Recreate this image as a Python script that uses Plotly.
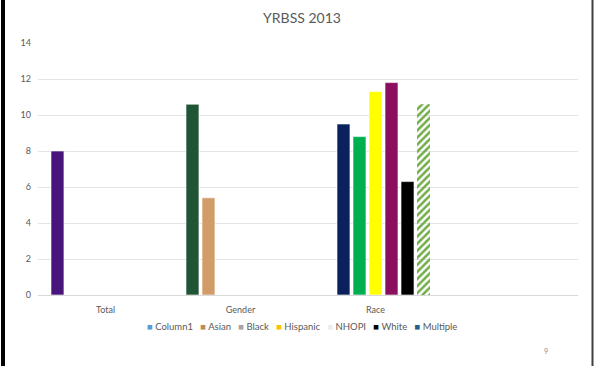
import plotly.graph_objects as go

# ---- data ----
categories = ["Total", "Gender", "Race", " "]
series_names = ["Column1", "Asian", "Black", "Hispanic", "NHOPI", "White", "Multiple"]
col1_vals = [8.0, 10.6, None, None]
asian_vals = [None, 5.4, 9.5, None]
black_vals = [None, None, 8.8, None]
hispanic_vals = [None, None, 11.3, None]
nhopi_vals = [None, None, 11.8, None]
white_vals = [None, None, 6.3, None]
multiple_vals = [None, None, 10.6, None]
series_values = [col1_vals, asian_vals, black_vals, hispanic_vals, nhopi_vals, white_vals, multiple_vals]

# bar fill colours (per point) and legend swatch colours
bar_colors = [
    ["#47157C", "#1F5434", "#FFFFFF", "#FFFFFF"],
    ["#FFFFFF", "#D29C68", "#0A215E", "#FFFFFF"],
    ["#FFFFFF", "#FFFFFF", "#00B050", "#FFFFFF"],
    ["#FFFFFF", "#FFFFFF", "#FFFF00", "#FFFFFF"],
    ["#FFFFFF", "#FFFFFF", "#8B0F5E", "#FFFFFF"],
    ["#FFFFFF", "#FFFFFF", "#000000", "#FFFFFF"],
    ["#70AD47", "#70AD47", "#70AD47", "#70AD47"],
]
legend_colors = ["#5B9BD5", "#C08A55", "#A5A5A5", "#FFC000", "#EDEDED", "#000000", "#255E91"]

W, H = 594, 366
ML, MR, MT, MB = 38, 16, 43, 71
PW, PH = W - ML - MR, H - MT - MB

def px_x(px):
    return (px - ML) / PW

def px_y(py):
    return (H - MB - py) / PH

fig = go.Figure()
for i, (name, vals) in enumerate(zip(series_names, series_values)):
    pattern = dict(shape="")
    line = dict(color="#FFFFFF", width=0.6)
    if name == "Multiple":
        pattern = dict(shape="/", fillmode="replace", bgcolor="#FFFFFF", size=5, solidity=0.5)
        line = dict(color="#FFFFFF", width=0)
    fig.add_trace(go.Bar(
        x=categories, y=vals, name=name, showlegend=False,
        marker=dict(color=bar_colors[i], line=line, pattern=pattern),
    ))

# legend as one centred line of text with coloured swatches
legend_html = "&nbsp;&nbsp;&nbsp;".join(
    f'<span style="color:{c}">■</span> {n}' for n, c in zip(series_names, legend_colors)
)

fig.update_layout(
    width=W, height=H,
    margin=dict(l=ML, r=MR, t=MT, b=MB),
    paper_bgcolor="white", plot_bgcolor="white",
    barmode="group", bargap=0.17, bargroupgap=0.19,
    font=dict(family="Lato, Open Sans, sans-serif", color="#595959", size=9),
    showlegend=False,
    title=dict(text="YRBSS 2013", x=px_x(302), xref="paper", xanchor="center",
               y=1 - 18 / H, yanchor="middle", font=dict(size=14, color="#595959")),
    xaxis=dict(categoryorder="array", categoryarray=categories, showgrid=False,
               showline=True, linecolor="#D9D9D9", linewidth=1, ticks="",
               ticklabelstandoff=6, tickfont=dict(size=9, color="#595959")),
    yaxis=dict(range=[0, 14], dtick=2, showgrid=True, gridcolor="#E4E4E4", gridwidth=1,
               zeroline=False, showline=False, ticks="", ticklabelstandoff=6,
               tickfont=dict(size=9, color="#595959")),
    annotations=[
        dict(text=legend_html, x=px_x(302), y=px_y(326), xref="paper", yref="paper",
             xanchor="center", yanchor="middle", showarrow=False,
             font=dict(size=9.5, color="#595959")),
        dict(text="9", x=px_x(546), y=px_y(351), xref="paper", yref="paper",
             xanchor="center", yanchor="middle", showarrow=False,
             font=dict(size=7, color="#8C8C8C")),
    ],
    shapes=[
        dict(type="line", xref="paper", yref="paper", x0=px_x(3), x1=px_x(3),
             y0=px_y(0), y1=px_y(H), line=dict(color="#000000", width=4)),
        dict(type="line", xref="paper", yref="paper", x0=px_x(592.5), x1=px_x(592.5),
             y0=px_y(0), y1=px_y(H), line=dict(color="#404040", width=2)),
    ],
)

fig.write_html("out.html")
